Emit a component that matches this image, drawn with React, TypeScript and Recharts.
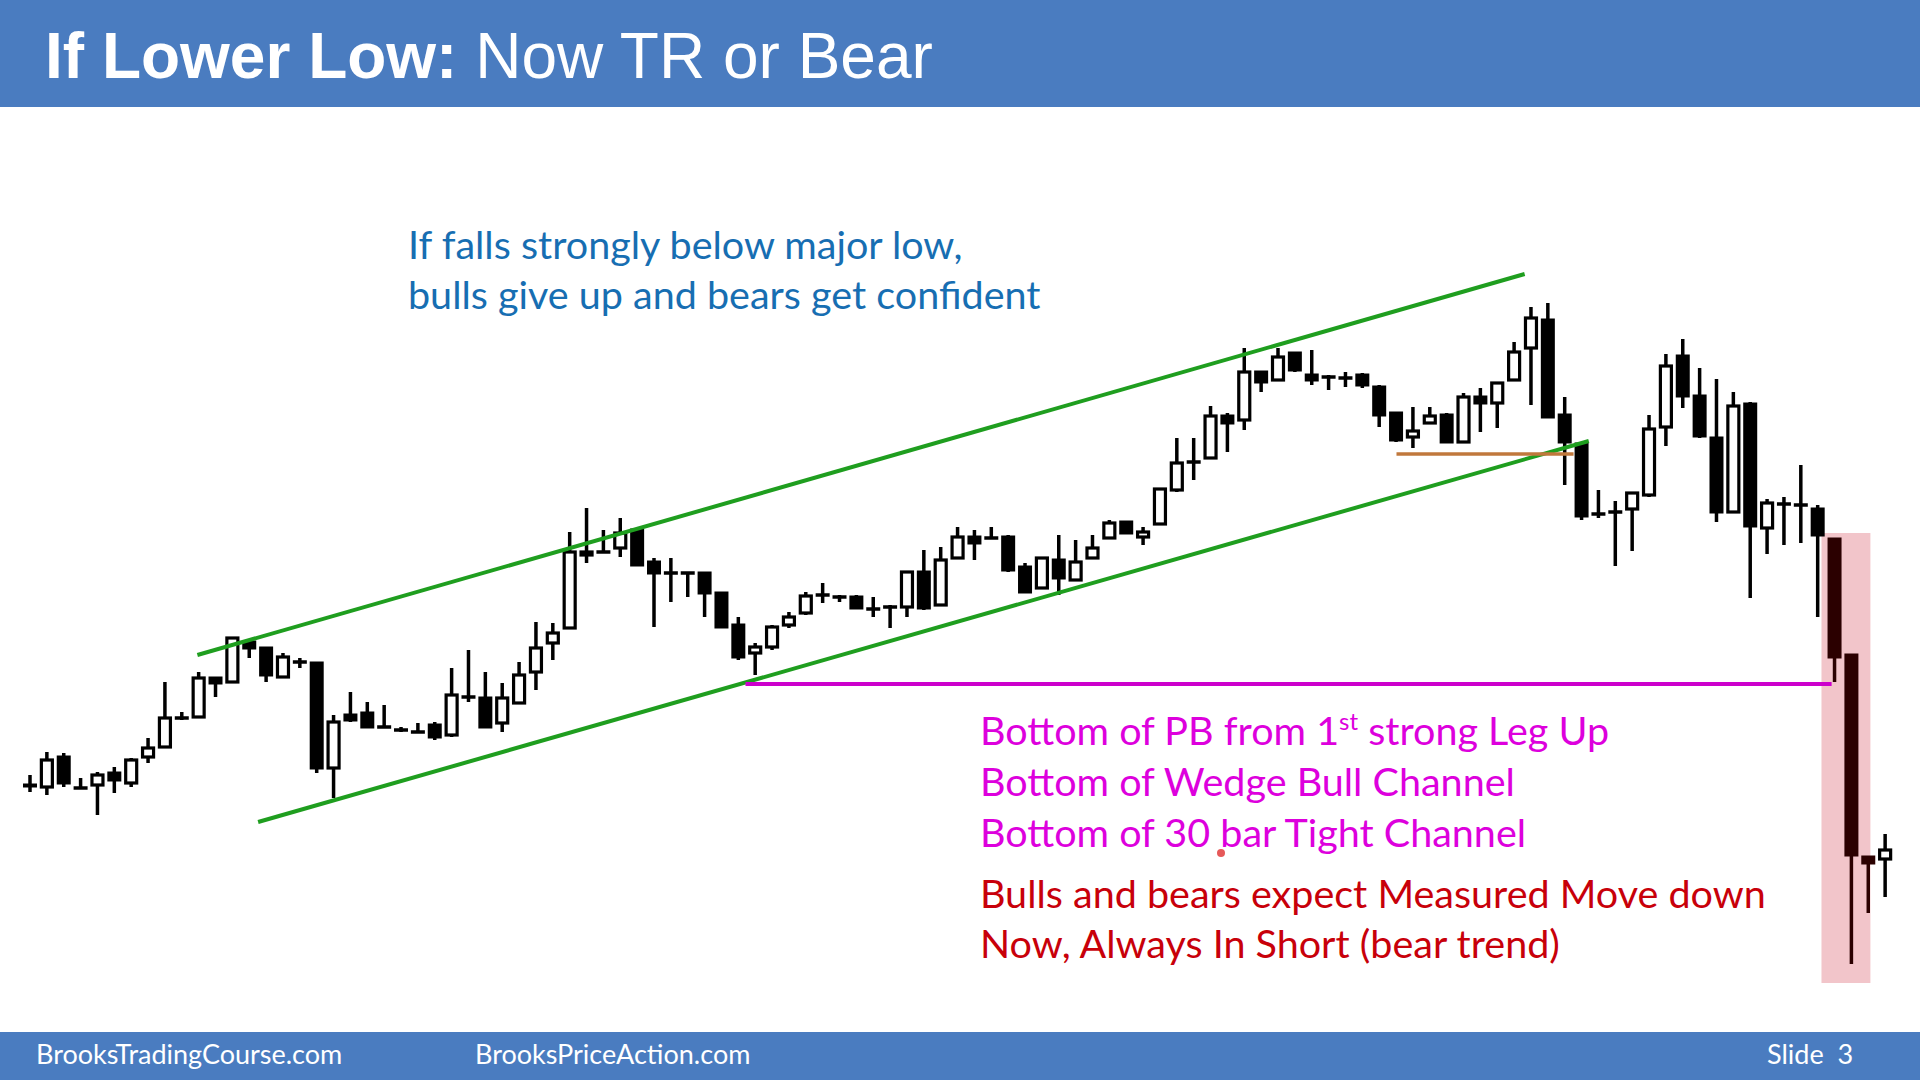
import { ComposedChart, Bar, XAxis, YAxis, ReferenceLine, ReferenceArea } from 'recharts';

// price units: 0..800 over the plot area
const opens = [
  215, 213, 243, 212, 215, 227, 217, 243, 253, 282,
  283, 322, 318, 358, 352, 323, 338, 337, 232, 285,
  287, 273, 270, 268, 275, 265, 303, 302, 277, 297,
  328, 357, 372, 445, 448, 452, 470, 438, 427, 427,
  427, 407, 375, 347, 353, 375, 387, 405, 403, 403,
  391, 393, 393, 428, 395, 442, 463, 462, 463, 433,
  412, 440, 420, 442, 462, 478, 463, 476, 510, 538,
  542, 584, 580, 628, 620, 647, 625, 623, 622, 625,
  613, 587, 563, 577, 585, 558, 603, 597, 620, 652,
  680, 585, 556, 486, 488, 491, 505, 573, 644, 604,
  562, 488, 596, 472, 496, 495, 491, 461, 345, 143, 141,
];
const closes = [
  214, 240, 217, 212, 225, 220, 240, 252, 282, 282,
  322, 317, 362, 352, 325, 343, 338, 232, 278, 280,
  273, 273, 270, 268, 263, 305, 303, 273, 302, 325,
  352, 367, 448, 448, 448, 467, 435, 427, 427, 427,
  407, 373, 343, 353, 373, 383, 404, 405, 403, 392,
  391, 393, 428, 392, 440, 463, 457, 462, 430, 408,
  442, 422, 438, 452, 477, 467, 468, 511, 537, 538,
  584, 577, 628, 618, 643, 630, 620, 623, 622, 615,
  585, 560, 569, 584, 558, 603, 597, 617, 648, 682,
  583, 558, 484, 486, 488, 507, 571, 634, 604, 564,
  488, 594, 474, 497, 496, 495, 465, 343, 145, 137, 150,
];
const highs = [
  225, 248, 247, 222, 228, 233, 242, 262, 318, 288,
  328, 323, 363, 360, 353, 347, 342, 338, 285, 308,
  298, 295, 273, 277, 278, 332, 350, 328, 317, 338,
  378, 377, 468, 492, 470, 482, 471, 442, 442, 428,
  428, 408, 383, 357, 375, 388, 408, 417, 405, 405,
  403, 395, 429, 450, 453, 473, 470, 473, 465, 437,
  443, 465, 460, 465, 480, 479, 473, 512, 562, 562,
  594, 587, 652, 629, 652, 648, 650, 625, 628, 627,
  615, 588, 593, 593, 587, 607, 612, 618, 658, 693,
  697, 603, 558, 510, 499, 508, 585, 646, 661, 632,
  621, 608, 598, 501, 503, 535, 495, 462, 346, 144, 166,
];
const lows = [
  208, 205, 213, 211, 185, 207, 213, 237, 252, 280,
  282, 303, 317, 342, 318, 322, 332, 227, 202, 278,
  272, 272, 268, 267, 260, 263, 298, 272, 268, 296,
  310, 340, 371, 437, 447, 443, 434, 373, 398, 403,
  383, 372, 340, 325, 350, 372, 385, 397, 398, 391,
  383, 372, 383, 390, 394, 441, 440, 461, 428, 407,
  411, 405, 419, 441, 461, 466, 455, 475, 508, 520,
  541, 548, 570, 608, 619, 628, 615, 610, 613, 612,
  573, 558, 552, 576, 557, 557, 568, 572, 619, 595,
  582, 515, 480, 482, 434, 449, 503, 554, 592, 562,
  478, 487, 402, 446, 455, 457, 383, 318, 36, 87, 103,
];

// annotation lines (bar index, price)
const upperChannel = [{ x: 9.9, y: 345 }, { x: 88.6, y: 726 }];
const lowerChannel = [{ x: 13.5, y: 178 }, { x: 92.4, y: 559 }];
const pbLow = [{ x: 42.4, y: 316 }, { x: 106.8, y: 316 }];
const rangeLow = [{ x: 81.0, y: 546 }, { x: 91.5, y: 546 }];
const bearZone = { x1: 106.2, x2: 109.1, y1: 17, y2: 467 };
const bearBars = [107, 108, 109];

const data = opens.map((o, i) => ({ i, open: o, close: closes[i], high: highs[i], low: lows[i] }));

const Candle = (props: any) => {
  const { x, y, width, height, payload, index } = props;
  const { open, close, high, low } = payload;
  const top = Math.min(y, y + height);
  const h = Math.abs(height);
  const py = (v: number) => top + ((high - v) / (high - low || 1)) * h;
  const cx = x + width / 2;
  const color = bearBars.includes(index) ? '#2b0000' : '#000';
  const bTop = py(Math.max(open, close));
  const bBot = py(Math.min(open, close));
  let body;
  if (open === close) {
    body = <line x1={cx - 7} x2={cx + 7} y1={bTop} y2={bTop} stroke={color} strokeWidth={3.5} />;
  } else if (close > open) {
    body = <rect x={cx - 5.5} y={bTop} width={11} height={Math.max(bBot - bTop, 2)} fill="#fff" stroke={color} strokeWidth={3.2} />;
  } else {
    body = <rect x={cx - 7} y={bTop - 1.5} width={14} height={Math.max(bBot - bTop + 3, 3)} fill={color} />;
  }
  return (
    <g>
      <line x1={cx} x2={cx} y1={py(high)} y2={py(low)} stroke={color} strokeWidth={3.5} />
      {body}
    </g>
  );
};

const blue = '#4a7cc0';
const txt = { fontFamily: 'Lato, sans-serif', fontSize: 39.5 };

const App = () => {
  return (
    <div style={{ position: 'absolute', left: 0, top: 0, width: 1920, height: 1080, background: '#fff' }}>
      <ComposedChart width={1920} height={1080} data={data} margin={{ top: 200, right: 26, bottom: 80, left: 22 }}>
        <XAxis xAxisId="c" dataKey="i" hide />
        <XAxis xAxisId="n" dataKey="i" type="number" domain={[-0.5, 110.5]} hide allowDataOverflow />
        <YAxis type="number" domain={[0, 800]} hide allowDataOverflow />
        <ReferenceArea xAxisId="n" {...bearZone} fill="#f2c5ca" fillOpacity={1} stroke="none" />
        <Bar
          xAxisId="c"
          dataKey={(d: any) => [d.low, d.high]}
          barSize={14}
          shape={Candle}
          isAnimationActive={false}
        />
        <ReferenceLine xAxisId="n" segment={upperChannel} stroke="#1f9e1f" strokeWidth={4} />
        <ReferenceLine xAxisId="n" segment={lowerChannel} stroke="#1f9e1f" strokeWidth={4} />
        <ReferenceLine xAxisId="n" segment={pbLow} stroke="#cc00cc" strokeWidth={4} />
        <ReferenceLine xAxisId="n" segment={rangeLow} stroke="#c0783c" strokeWidth={3.5} />
      </ComposedChart>
      <svg width={1920} height={1080} style={{ position: 'absolute', left: 0, top: 0, pointerEvents: 'none' }}>
        <rect x={0} y={0} width={1920} height={107} fill={blue} />
        <text x={45} y={78} fill="#fff" fontFamily="'Liberation Sans', Arial, sans-serif" fontSize={64}>
          <tspan fontWeight="bold">If Lower Low:</tspan>
          <tspan> Now TR or Bear</tspan>
        </text>
        <text x={408} y={259} fill="#176eb2" {...txt}>If falls strongly below major low,</text>
        <text x={408} y={309} fill="#176eb2" {...txt}>bulls give up and bears get confident</text>
        <text x={980} y={745} fill="#dd00dd" {...txt}>
          Bottom of PB from 1<tspan fontSize={24} dy={-15}>st</tspan>
          <tspan dy={15}> strong Leg Up</tspan>
        </text>
        <text x={980} y={796} fill="#dd00dd" {...txt}>Bottom of Wedge Bull Channel</text>
        <text x={980} y={847} fill="#dd00dd" {...txt}>Bottom of 30 bar Tight Channel</text>
        <text x={980} y={908} fill="#c8000a" {...txt}>Bulls and bears expect Measured Move down</text>
        <text x={980} y={958} fill="#c8000a" {...txt}>Now, Always In Short (bear trend)</text>
        <circle cx={1221} cy={853} r={4} fill="#e03030" opacity={0.8} />
        <rect x={0} y={1032} width={1920} height={48} fill={blue} />
        <text x={36} y={1064} fill="#fff" fontFamily="Lato, sans-serif" fontSize={27}>BrooksTradingCourse.com</text>
        <text x={475} y={1064} fill="#fff" fontFamily="Lato, sans-serif" fontSize={27}>BrooksPriceAction.com</text>
        <text x={1767} y={1064} fill="#fff" fontFamily="Lato, sans-serif" fontSize={27} style={{ whiteSpace: 'pre' }}>Slide  3</text>
      </svg>
    </div>
  );
};

export default App;
